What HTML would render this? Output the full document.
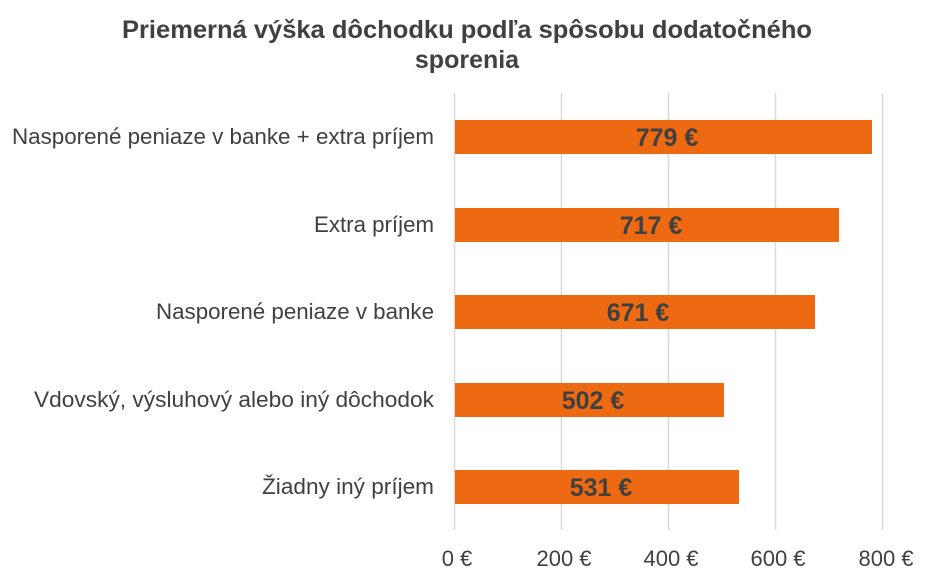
<!DOCTYPE html>
<html><head><meta charset="utf-8"><style>
body{margin:0;background:#fff;}
svg{display:block;font-family:"Liberation Sans",sans-serif;}
</style></head><body>
<svg width="932" height="582" viewBox="0 0 932 582">
<rect width="932" height="582" fill="#fff"/>
<text x="467" y="38" text-anchor="middle" font-size="25" font-weight="bold" fill="#404040" textLength="690" lengthAdjust="spacingAndGlyphs">Priemerná výška dôchodku podľa spôsobu dodatočného</text>
<text x="467" y="68" text-anchor="middle" font-size="25" font-weight="bold" fill="#404040">sporenia</text>
<g stroke="#d9d9d9" stroke-width="1.5">
<line x1="454.5" y1="93" x2="454.5" y2="530"/>
<line x1="561.5" y1="93" x2="561.5" y2="530"/>
<line x1="668.5" y1="93" x2="668.5" y2="530"/>
<line x1="775.5" y1="93" x2="775.5" y2="530"/>
<line x1="882.5" y1="93" x2="882.5" y2="530"/>
</g>
<g fill="#ee6a12">
<rect x="455" y="120" width="417" height="34"/>
<rect x="455" y="208" width="384" height="34"/>
<rect x="455" y="295" width="360" height="34"/>
<rect x="455" y="383" width="269" height="34"/>
<rect x="455" y="470" width="284" height="34"/>
</g>
<g font-size="25" font-weight="bold" fill="#404040" text-anchor="middle">
<text x="667" y="146">779 €</text>
<text x="651" y="234">717 €</text>
<text x="638" y="321">671 €</text>
<text x="593" y="409">502 €</text>
<text x="601" y="496">531 €</text>
</g>
<g font-size="22" fill="#404040" text-anchor="end">
<text x="434" y="144" textLength="422" lengthAdjust="spacingAndGlyphs">Nasporené peniaze v banke + extra príjem</text>
<text x="434" y="232" textLength="120" lengthAdjust="spacingAndGlyphs">Extra príjem</text>
<text x="434" y="319" textLength="278" lengthAdjust="spacingAndGlyphs">Nasporené peniaze v banke</text>
<text x="434" y="407" textLength="400" lengthAdjust="spacingAndGlyphs">Vdovský, výsluhový alebo iný dôchodok</text>
<text x="434" y="494" textLength="172" lengthAdjust="spacingAndGlyphs">Žiadny iný príjem</text>
</g>
<g font-size="22" fill="#404040" text-anchor="middle">
<text x="457" y="566">0 €</text>
<text x="564" y="566">200 €</text>
<text x="671" y="566">400 €</text>
<text x="778" y="566">600 €</text>
<text x="886" y="566">800 €</text>
</g>
</svg>
</body></html>
